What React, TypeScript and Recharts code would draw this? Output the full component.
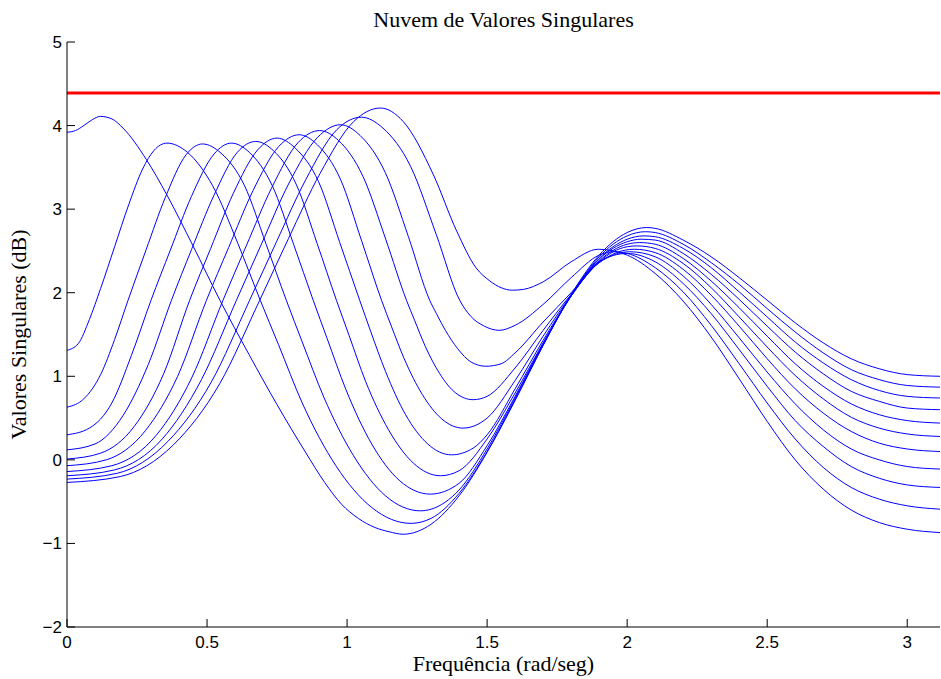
import React from 'react';
import { LineChart, Line, XAxis, YAxis } from 'recharts';

const xTicks = [0, 0.5, 1, 1.5, 2, 2.5, 3];
const yTicks = [-2, -1, 0, 1, 2, 3, 4, 5];
const xDomain: [number, number] = [0, 3.117];
const yDomain: [number, number] = [-2, 5];
const redLevel = [[0, 4.39], [3.117, 4.39]];

const curve1 = [[0,3.92],[0.03,3.94],[0.06,4.0],[0.09,4.07],[0.119,4.11],[0.16,4.08],[0.2,3.97],[0.284,3.59],[0.355,3.18],[0.45,2.56],[0.546,1.91],[0.65,1.26],[0.75,0.66],[0.85,0.1],[0.92,-0.27],[0.98,-0.53],[1.04,-0.7],[1.1,-0.81],[1.15,-0.86],[1.2,-0.89],[1.3,-0.77],[1.4,-0.43],[1.5,0.09],[1.6,0.71],[1.7,1.37],[1.8,1.98],[1.9,2.45],[2.0,2.72],[2.07,2.78],[2.1,2.77],[2.2,2.63],[2.3,2.43],[2.4,2.18],[2.5,1.91],[2.6,1.64],[2.7,1.4],[2.8,1.21],[2.9,1.09],[3.0,1.02],[3.117,1.0]];
const curve2 = [[0,1.31],[0.04,1.39],[0.08,1.68],[0.12,2.05],[0.17,2.55],[0.22,3.05],[0.27,3.48],[0.31,3.7],[0.357,3.79],[0.43,3.68],[0.52,3.28],[0.61,2.59],[0.69,1.91],[0.755,1.38],[0.84,0.68],[0.96,-0.07],[1.088,-0.57],[1.228,-0.76],[1.3,-0.7],[1.4,-0.4],[1.5,0.1],[1.6,0.72],[1.7,1.37],[1.8,1.97],[1.9,2.43],[2.0,2.68],[2.065,2.73],[2.1,2.72],[2.2,2.58],[2.3,2.36],[2.4,2.1],[2.5,1.81],[2.6,1.53],[2.7,1.28],[2.8,1.08],[2.9,0.96],[3.0,0.89],[3.117,0.87]];
const curve3 = [[0,0.63],[0.06,0.73],[0.12,1.02],[0.17,1.44],[0.218,1.91],[0.282,2.51],[0.351,3.14],[0.425,3.65],[0.484,3.78],[0.55,3.67],[0.634,3.28],[0.711,2.58],[0.783,1.91],[0.84,1.41],[0.917,0.75],[1.023,0.05],[1.137,-0.43],[1.262,-0.61],[1.3,-0.59],[1.4,-0.36],[1.5,0.13],[1.6,0.74],[1.7,1.38],[1.8,1.97],[1.9,2.41],[2.0,2.64],[2.06,2.68],[2.1,2.67],[2.2,2.53],[2.3,2.3],[2.4,2.01],[2.5,1.71],[2.6,1.41],[2.7,1.16],[2.8,0.96],[2.9,0.83],[3.0,0.76],[3.117,0.74]];
const curve4 = [[0,0.3],[0.08,0.38],[0.16,0.68],[0.23,1.25],[0.3,1.91],[0.369,2.51],[0.444,3.15],[0.525,3.66],[0.587,3.79],[0.651,3.68],[0.733,3.28],[0.809,2.58],[0.879,1.91],[0.929,1.45],[0.996,0.84],[1.088,0.19],[1.188,-0.25],[1.297,-0.41],[1.4,-0.28],[1.5,0.17],[1.6,0.76],[1.7,1.39],[1.8,1.96],[1.9,2.4],[2.0,2.61],[2.05,2.64],[2.1,2.63],[2.2,2.47],[2.3,2.22],[2.4,1.92],[2.5,1.6],[2.6,1.29],[2.7,1.03],[2.8,0.82],[2.9,0.7],[3.0,0.62],[3.117,0.6]];
const curve5 = [[0,0.12],[0.1,0.19],[0.2,0.53],[0.29,1.14],[0.373,1.91],[0.445,2.52],[0.524,3.16],[0.608,3.68],[0.674,3.81],[0.737,3.7],[0.818,3.3],[0.893,2.59],[0.962,1.91],[1.007,1.49],[1.066,0.94],[1.148,0.36],[1.237,-0.04],[1.333,-0.19],[1.4,-0.13],[1.5,0.25],[1.6,0.8],[1.7,1.4],[1.8,1.96],[1.9,2.38],[2.0,2.58],[2.045,2.6],[2.1,2.58],[2.2,2.41],[2.3,2.14],[2.4,1.82],[2.5,1.48],[2.6,1.15],[2.7,0.88],[2.8,0.67],[2.9,0.54],[3.0,0.47],[3.117,0.44]];
const curve6 = [[0,0.01],[0.12,0.08],[0.24,0.4],[0.345,1.03],[0.438,1.91],[0.513,2.53],[0.594,3.19],[0.681,3.71],[0.75,3.85],[0.815,3.73],[0.898,3.33],[0.974,2.6],[1.045,1.91],[1.084,1.54],[1.137,1.06],[1.209,0.54],[1.288,0.19],[1.373,0.06],[1.45,0.14],[1.5,0.3],[1.6,0.85],[1.7,1.43],[1.8,1.96],[1.9,2.37],[2.0,2.55],[2.035,2.56],[2.1,2.53],[2.2,2.35],[2.3,2.06],[2.4,1.71],[2.5,1.35],[2.6,1.01],[2.7,0.73],[2.8,0.51],[2.9,0.38],[3.0,0.31],[3.117,0.28]];
const curve7 = [[0,-0.07],[0.14,0.0],[0.28,0.35],[0.395,1.0],[0.498,1.91],[0.577,2.54],[0.664,3.22],[0.756,3.75],[0.829,3.89],[0.894,3.77],[0.976,3.36],[1.052,2.62],[1.123,1.91],[1.158,1.6],[1.204,1.21],[1.269,0.78],[1.338,0.49],[1.414,0.38],[1.5,0.5],[1.6,0.95],[1.7,1.48],[1.8,1.97],[1.9,2.36],[2.025,2.52],[2.1,2.48],[2.2,2.28],[2.3,1.97],[2.4,1.6],[2.5,1.21],[2.6,0.85],[2.7,0.56],[2.8,0.34],[2.9,0.2],[3.0,0.13],[3.117,0.1]];
const curve8 = [[0,-0.14],[0.16,-0.07],[0.32,0.3],[0.445,0.98],[0.557,1.91],[0.64,2.56],[0.73,3.25],[0.826,3.8],[0.902,3.94],[0.97,3.82],[1.057,3.39],[1.138,2.64],[1.212,1.91],[1.241,1.67],[1.279,1.36],[1.331,1.03],[1.388,0.8],[1.45,0.72],[1.5,0.76],[1.6,1.1],[1.7,1.55],[1.8,1.98],[1.9,2.36],[2.01,2.49],[2.1,2.43],[2.2,2.2],[2.3,1.86],[2.4,1.46],[2.5,1.05],[2.6,0.67],[2.7,0.36],[2.8,0.13],[2.9,0.0],[3.0,-0.08],[3.117,-0.11]];
const curve9 = [[0,-0.19],[0.17,-0.12],[0.34,0.25],[0.48,0.96],[0.605,1.91],[0.694,2.58],[0.791,3.3],[0.895,3.86],[0.977,4.01],[1.047,3.88],[1.136,3.44],[1.219,2.67],[1.295,1.91],[1.319,1.75],[1.351,1.55],[1.395,1.33],[1.443,1.17],[1.495,1.12],[1.55,1.15],[1.6,1.28],[1.7,1.65],[1.8,2.0],[1.9,2.37],[2.0,2.47],[2.1,2.37],[2.2,2.11],[2.3,1.75],[2.4,1.32],[2.5,0.88],[2.6,0.47],[2.7,0.16],[2.8,-0.08],[2.9,-0.22],[3.0,-0.3],[3.117,-0.33]];
const curve10 = [[0,-0.23],[0.18,-0.16],[0.36,0.22],[0.515,0.93],[0.652,1.91],[0.748,2.61],[0.852,3.35],[0.963,3.95],[1.051,4.1],[1.128,3.97],[1.227,3.51],[1.318,2.7],[1.402,1.91],[1.441,1.72],[1.49,1.6],[1.543,1.55],[1.6,1.61],[1.7,1.86],[1.8,2.18],[1.9,2.45],[1.95,2.49],[2.0,2.47],[2.1,2.3],[2.2,2.01],[2.3,1.61],[2.4,1.15],[2.5,0.68],[2.6,0.25],[2.7,-0.09],[2.8,-0.33],[2.9,-0.47],[3.0,-0.55],[3.117,-0.59]];
const curve11 = [[0,-0.27],[0.19,-0.2],[0.38,0.18],[0.545,0.91],[0.688,1.91],[0.791,2.65],[0.904,3.43],[1.024,4.05],[1.119,4.21],[1.2,4.05],[1.307,3.42],[1.391,2.74],[1.46,2.3],[1.51,2.14],[1.55,2.06],[1.59,2.03],[1.63,2.04],[1.7,2.13],[1.8,2.37],[1.897,2.52],[2.0,2.45],[2.1,2.23],[2.2,1.9],[2.3,1.47],[2.4,0.97],[2.5,0.46],[2.6,0.0],[2.7,-0.35],[2.8,-0.6],[2.9,-0.75],[3.0,-0.83],[3.117,-0.87]];

const curves = [curve1, curve2, curve3, curve4, curve5, curve6, curve7, curve8, curve9, curve10, curve11];
const toPts = (arr: number[][]) => arr.map(([x, v]) => ({ x, v }));

const SANS = '"Liberation Sans", Arial, Helvetica, sans-serif';
const SERIF = '"Liberation Serif", "Times New Roman", serif';
const fmt = (v: number) => (v < 0 ? '\u2212' + Math.abs(v) : String(v));

const LeftTick = (p: any) => (
  <g>
    <line x1={p.x} y1={p.y} x2={p.x + 8} y2={p.y} stroke="#000" strokeWidth={1} />
    <text x={p.x - 5} y={p.y + 6} textAnchor="end" fontFamily={SANS} fontSize={17} fill="#000">{fmt(p.payload.value)}</text>
  </g>
);
const RightTick = (p: any) => (
  <line x1={p.x} y1={p.y} x2={p.x - 8} y2={p.y} stroke="#000" strokeWidth={1} />
);
const BottomTick = (p: any) => (
  <g>
    <line x1={p.x} y1={p.y} x2={p.x} y2={p.y - 8} stroke="#000" strokeWidth={1} />
    <text x={p.x} y={p.y + 21} textAnchor="middle" fontFamily={SANS} fontSize={17} fill="#000">{fmt(p.payload.value)}</text>
  </g>
);
const TopTick = (p: any) => (
  <line x1={p.x} y1={p.y} x2={p.x} y2={p.y + 8} stroke="#000" strokeWidth={1} />
);

export default function App() {
  return (
    <div style={{ position: 'absolute', left: 0, top: 0, width: 941, height: 679, background: '#fff' }}>
      <LineChart width={941} height={679} margin={{ top: 42, right: 1, bottom: 0, left: 0 }}>
        <XAxis xAxisId="b" type="number" dataKey="x" domain={xDomain} ticks={xTicks} interval={0} height={52}
          tickSize={0} tickMargin={0} tickLine={false} axisLine={{ stroke: '#000' }} tick={BottomTick} allowDataOverflow />
        <XAxis xAxisId="t" orientation="top" type="number" dataKey="x" domain={xDomain} ticks={xTicks} interval={0} height={0}
          tickSize={0} tickMargin={0} tickLine={false} axisLine={{ stroke: '#000' }} tick={TopTick} allowDataOverflow />
        <YAxis yAxisId="l" type="number" domain={yDomain} ticks={yTicks} interval={0} width={67}
          tickSize={0} tickMargin={0} tickLine={false} axisLine={{ stroke: '#000' }} tick={LeftTick} allowDataOverflow />
        <YAxis yAxisId="r" orientation="right" type="number" domain={yDomain} ticks={yTicks} interval={0} width={0}
          tickSize={0} tickMargin={0} tickLine={false} axisLine={{ stroke: '#000' }} tick={RightTick} allowDataOverflow />
        {curves.map((c, i) => (
          <Line key={i} xAxisId="b" yAxisId="l" data={toPts(c)} dataKey="v" type="monotone" stroke="#0000ff"
            strokeWidth={1} dot={false} activeDot={false} isAnimationActive={false} />
        ))}
        <Line xAxisId="b" yAxisId="l" data={toPts(redLevel)} dataKey="v" type="linear" stroke="#ff0000"
          strokeWidth={3} dot={false} activeDot={false} isAnimationActive={false} />
      </LineChart>
      <svg width={941} height={679} style={{ position: 'absolute', left: 0, top: 0, pointerEvents: 'none' }}>
        <text x={503.5} y={27} textAnchor="middle" fontFamily={SERIF} fontSize={22} fill="#000">Nuvem de Valores Singulares</text>
        <text x={503.5} y={671} textAnchor="middle" fontFamily={SERIF} fontSize={22} fill="#000">Frequência (rad/seg)</text>
        <text x={26} y={334.5} transform="rotate(-90 26 334.5)" textAnchor="middle" fontFamily={SERIF} fontSize={22} fill="#000">Valores Singulares (dB)</text>
      </svg>
    </div>
  );
}
